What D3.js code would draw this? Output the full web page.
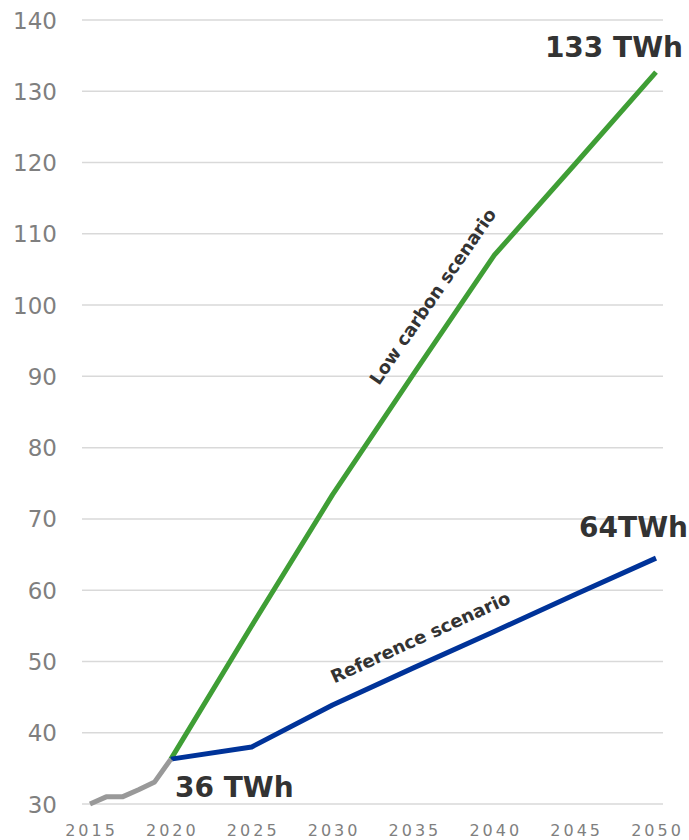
<!DOCTYPE html>
<html>
<head>
<meta charset="utf-8">
<style>
  body { margin: 0; background: #fff; }
  svg text { font-family: "DejaVu Sans", Verdana, sans-serif; }
</style>
</head>
<body>
<svg width="689" height="840"></svg>
<script src="https://d3js.org/d3.v7.min.js"></script>
<script>

// historical + scenario values (TWh)
var histYears = [2015, 2016, 2017, 2018, 2019, 2020];
var histValues = [30, 31, 31, 32, 33.1, 36.3];

var scenYears = [2020, 2025, 2030, 2035, 2040, 2045, 2050];
var refValues = [36.3, 38.0, 43.9, 49.1, 54.2, 59.4, 64.5];
var lowValues = [36.3, 55.0, 73.4, 90.3, 107.0, 119.8, 132.7];

var yTicks = [30, 40, 50, 60, 70, 80, 90, 100, 110, 120, 130, 140];
var xTicks = [2015, 2020, 2025, 2030, 2035, 2040, 2045, 2050];

var svg = d3.select("svg");

var x = d3.scaleLinear().domain([2015, 2050]).range([90, 656]);
var y = d3.scaleLinear().domain([30, 140]).range([804, 20]);

// gridlines
svg.append("g")
  .selectAll("line")
  .data(yTicks)
  .enter().append("line")
    .attr("x1", 82)
    .attr("x2", 663)
    .attr("y1", function(d) { return y(d); })
    .attr("y2", function(d) { return y(d); })
    .attr("stroke", "#d9d9d9")
    .attr("stroke-width", 1.5);

// y labels
svg.append("g")
  .selectAll("text")
  .data(yTicks)
  .enter().append("text")
    .attr("x", 57)
    .attr("y", function(d) { return y(d) + 8.5; })
    .attr("text-anchor", "end")
    .attr("fill", "#7f7f7f")
    .attr("font-size", 23)
    .text(function(d) { return d; });

// x labels
svg.append("g")
  .selectAll("text")
  .data(xTicks)
  .enter().append("text")
    .attr("x", function(d) { return x(d) + 1.5; })
    .attr("y", 836)
    .attr("text-anchor", "middle")
    .attr("fill", "#7f7f7f")
    .attr("font-size", 16)
    .attr("letter-spacing", 3)
    .text(function(d) { return d; });

var line = d3.line()
    .x(function(d) { return x(d[0]); })
    .y(function(d) { return y(d[1]); });

function draw(years, values, color) {
  svg.append("path")
      .datum(d3.zip(years, values))
      .attr("fill", "none")
      .attr("stroke", color)
      .attr("stroke-width", 5)
      .attr("stroke-linejoin", "round")
      .attr("d", line);
}

draw(scenYears, lowValues, "#3f9e35");
draw(scenYears, refValues, "#003399");
draw(histYears, histValues, "#999999");

// value annotations
function note(text, px, py, anchor) {
  svg.append("text")
      .attr("x", px).attr("y", py)
      .attr("text-anchor", anchor)
      .attr("font-size", 28).attr("font-weight", "bold")
      .attr("fill", "#333")
      .text(text);
}
note("133 TWh", 683, 57, "end");
note("64TWh", 688, 537, "end");
note("36 TWh", 175, 797, "start");

// scenario labels
svg.append("text")
    .attr("transform", "translate(438,300) rotate(-55.5)")
    .attr("text-anchor", "middle")
    .attr("font-size", 18).attr("font-weight", "bold")
    .attr("fill", "#333")
    .text("Low carbon scenario");

svg.append("text")
    .attr("transform", "translate(423,643) rotate(-24.5)")
    .attr("text-anchor", "middle")
    .attr("font-size", 18).attr("font-weight", "bold")
    .attr("fill", "#333")
    .text("Reference scenario");

</script>
</body>
</html>
